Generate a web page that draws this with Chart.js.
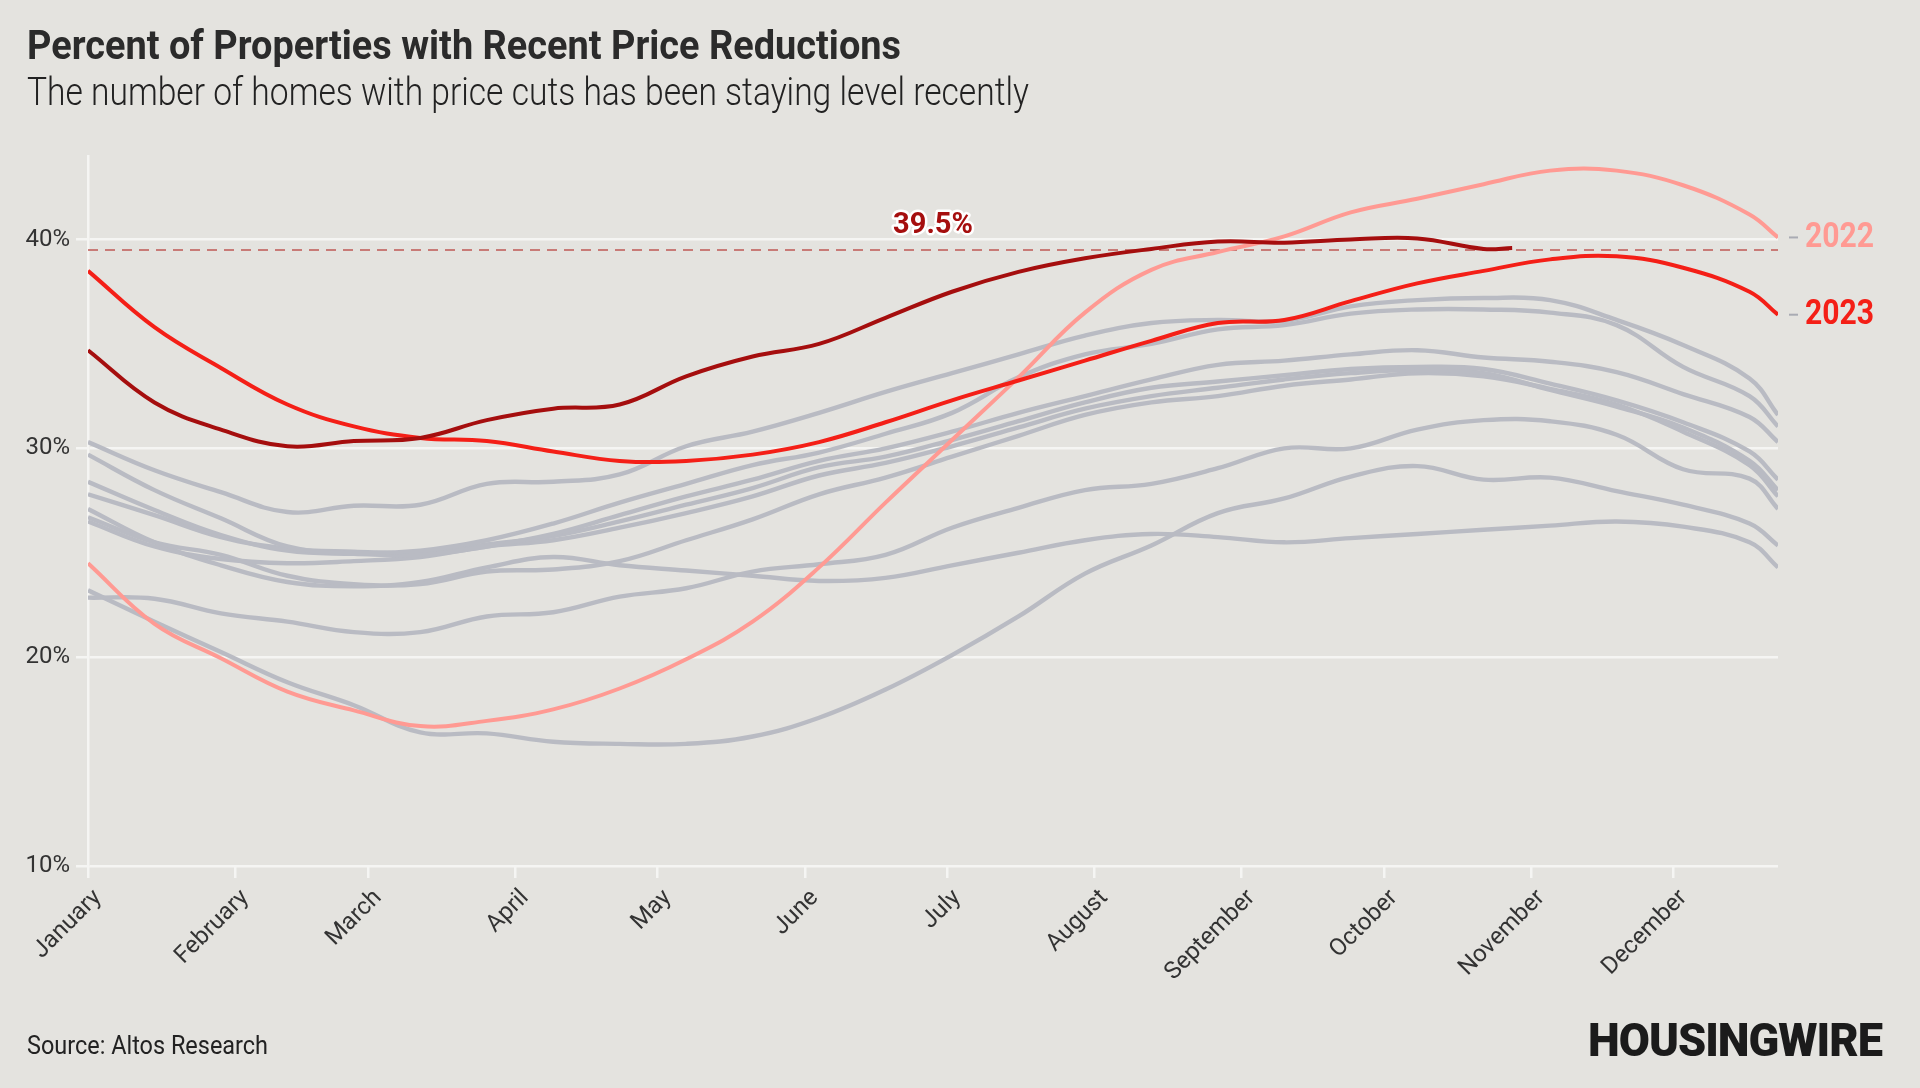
<!DOCTYPE html>
<html>
<head>
<meta charset="utf-8">
<script src="https://cdn.jsdelivr.net/npm/chart.js@4.4.1/dist/chart.umd.min.js"></script>
<style>
  html, body { margin: 0; padding: 0; background: #e4e3df; }
  body { width: 1920px; height: 1088px; position: relative; overflow: hidden; font-family: Roboto, sans-serif; }
  #chart { position: absolute; left: 0; top: 0; }
  .txt { position: absolute; white-space: nowrap; line-height: 1; transform-origin: 0 0; }
  #title { left: 27px; top: 25px; font-size: 41px; font-weight: 700; color: #2b2b2b; }
  #subtitle { left: 27px; top: 73px; font-size: 38px; font-weight: 300; color: #222; }
  #source { left: 27px; top: 1032px; font-size: 26px; font-weight: 400; color: #222; }
  #logo { left: 1588px; top: 1017px; font-size: 46px; font-weight: 900; color: #1b1b1b; letter-spacing: -1px; }
</style>
</head>
<body>
<canvas id="chart" width="1920" height="1088"></canvas>
<div id="title" class="txt" data-w="874">Percent of Properties with Recent Price Reductions</div>
<div id="subtitle" class="txt" data-w="1002">The number of homes with price cuts has been staying level recently</div>
<div id="source" class="txt" data-w="241">Source: Altos Research</div>
<div id="logo" class="txt" data-w="294">HOUSINGWIRE</div>
<script>
// day of year for each sample
const days = [0,14,28,42,56,70,84,98,112,126,140,154,168,182,196,210,224,238,252,266,280,294,308,322,336,350,356];
const days2024 = [0,14,28,42,56,70,84,98,112,126,140,154,168,182,196,210,224,238,252,266,280,294,300];

const monthNames = ["January","February","March","April","May","June","July","August","September","October","November","December"];
const monthStarts = [0,31,59,90,120,151,181,212,243,273,304,334];
const yTicks = [10,20,30,40];

const y2024 = [34.7,32.2,30.9,30.1,30.35,30.5,31.35,31.9,32.1,33.45,34.4,35.0,36.25,37.5,38.45,39.1,39.55,39.9,39.85,40.0,40.05,39.55,39.6];
const y2023 = [38.5,35.8,33.85,32.1,31.05,30.5,30.35,29.85,29.4,29.4,29.7,30.3,31.25,32.3,33.25,34.2,35.15,36.0,36.15,37.05,37.9,38.5,39.05,39.2,38.65,37.5,36.4];
const y2022 = [24.5,21.6,19.95,18.35,17.45,16.7,16.95,17.5,18.5,19.9,21.7,24.3,27.4,30.4,33.4,36.5,38.55,39.4,40.15,41.3,41.95,42.65,43.3,43.3,42.6,41.2,40.1];

// earlier years (grey)
const grayA = [30.3,28.95,27.9,26.95,27.25,27.3,28.3,28.4,28.75,30.1,30.8,31.7,32.7,33.6,34.5,35.4,36.0,36.15,36.1,36.8,37.1,37.2,37.1,36.15,34.95,33.35,31.6];
const grayB = [29.7,28.0,26.65,25.3,25.0,25.1,25.6,26.4,27.4,28.3,29.2,29.8,30.7,31.7,33.4,34.5,35.0,35.7,35.9,36.45,36.65,36.65,36.5,35.9,33.9,32.5,31.05];
const grayC = [28.4,27.05,25.85,25.1,24.95,24.9,25.3,25.9,26.8,27.7,28.5,29.4,30.0,30.8,31.7,32.5,33.3,34.0,34.2,34.5,34.7,34.35,34.15,33.65,32.6,31.5,30.3];
const grayD = [27.8,26.8,25.75,25.2,25.05,25.0,25.4,25.8,26.5,27.3,28.1,29.1,29.6,30.4,31.3,32.2,32.9,33.2,33.5,33.8,33.9,33.8,33.1,32.3,31.25,29.85,28.5];
const grayE = [26.5,25.3,24.7,24.5,24.6,24.8,25.3,25.6,26.2,26.9,27.7,28.7,29.3,30.1,31.0,31.9,32.5,32.9,33.3,33.6,33.75,33.6,32.8,32.0,31.0,29.4,28.0];
const grayF = [26.7,25.5,24.9,23.9,23.5,23.5,24.1,24.2,24.6,25.6,26.6,27.8,28.6,29.6,30.6,31.6,32.2,32.5,33.0,33.3,33.6,33.45,32.85,32.1,30.8,29.2,27.7];
const grayG = [22.85,22.8,22.1,21.7,21.2,21.2,21.95,22.15,22.9,23.3,24.1,24.45,24.9,26.2,27.15,28.0,28.3,29.05,30.0,30.0,30.9,31.35,31.3,30.65,29.0,28.55,27.1];
const grayH = [27.1,25.5,24.4,23.6,23.4,23.6,24.3,24.8,24.4,24.15,23.9,23.65,23.8,24.4,25.0,25.6,25.9,25.75,25.5,25.7,25.9,26.1,26.3,26.5,26.25,25.5,24.3];
const grayI = [23.2,21.7,20.25,18.8,17.7,16.4,16.35,15.95,15.85,15.85,16.2,17.1,18.45,20.1,21.95,24.0,25.35,26.9,27.6,28.65,29.15,28.5,28.6,27.95,27.3,26.4,25.35];
const grays = [grayA, grayB, grayC, grayD, grayE, grayF, grayG, grayH, grayI];

const peakValue = 39.5;
const peakLabelDay = 178;

const pts = (xs, ys) => ys.map((v, i) => ({x: xs[i], y: v}));

const datasets = [
  {label: "2024", data: pts(days2024, y2024), borderColor: "#a50e0e", borderWidth: 4, order: 0},
  {label: "2023", data: pts(days, y2023), borderColor: "#f41f17", borderWidth: 4, order: 1},
  {label: "2022", data: pts(days, y2022), borderColor: "#ff9a93", borderWidth: 4, order: 2},
  {label: "peak", data: [{x: days[0], y: peakValue}, {x: days[days.length - 1], y: peakValue}],
   borderColor: "#bf5a55", borderWidth: 1.5, borderDash: [10, 7], tension: 0, order: 3}
];
grays.forEach((g, i) => {
  datasets.push({label: "g" + i, data: pts(days, g), borderColor: "#b9bbc3", borderWidth: 4.4, order: 5});
});

const endLabels = {
  id: "endLabels",
  afterDatasetsDraw(chart) {
    const {ctx, scales: {x, y}, chartArea} = chart;
    ctx.save();
    // peak annotation
    ctx.font = "bold 29px Roboto";
    ctx.textAlign = "center";
    ctx.textBaseline = "alphabetic";
    ctx.lineJoin = "round";
    ctx.lineWidth = 5;
    ctx.strokeStyle = "#ffffff";
    const px = x.getPixelForValue(peakLabelDay);
    const py = y.getPixelForValue(peakValue) - 17;
    ctx.strokeText(peakValue + "%", px, py);
    ctx.fillStyle = "#a50e0e";
    ctx.fillText(peakValue + "%", px, py);

    // year labels at the end of 2022 and 2023
    [["2022", y2022, "#ff9a93"], ["2023", y2023, "#f41f17"]].forEach(([name, arr, col]) => {
      const ly = y.getPixelForValue(arr[arr.length - 1]);
      ctx.strokeStyle = "#a9abb3";
      ctx.lineWidth = 2;
      ctx.beginPath();
      ctx.moveTo(chartArea.right + 11, ly);
      ctx.lineTo(chartArea.right + 20, ly);
      ctx.stroke();
      ctx.save();
      ctx.translate(chartArea.right + 27, ly + 1);
      ctx.scale(0.86, 1);
      ctx.font = "bold 35px Roboto";
      ctx.textAlign = "left";
      ctx.textBaseline = "middle";
      ctx.fillStyle = col;
      ctx.fillText(name, 0, 0);
      ctx.restore();
    });
    ctx.restore();
  }
};

new Chart(document.getElementById("chart"), {
  type: "line",
  data: {datasets: datasets},
  options: {
    responsive: false,
    devicePixelRatio: 1,
    animation: false,
    layout: {padding: {left: 0, top: 156, right: 142, bottom: 0}},
    elements: {point: {radius: 0}, line: {tension: 0.4}},
    plugins: {legend: {display: false}, tooltip: {enabled: false}},
    scales: {
      x: {
        type: "linear",
        min: 0,
        max: 356,
        afterBuildTicks: (s) => { s.ticks = monthStarts.map(v => ({value: v})); },
        afterFit: (s) => { s.height = 222; },
        ticks: {
          callback: (v) => monthNames[monthStarts.indexOf(v)],
          maxRotation: 45, minRotation: 45,
          labelOffset: 10,
          color: "#333", font: {family: "Roboto", size: 24, weight: "400"},
          padding: 6
        },
        grid: {drawOnChartArea: false, color: "#f5f5f3", lineWidth: 2.5, tickLength: 12},
        border: {display: false}
      },
      y: {
        min: 10,
        max: 44,
        afterBuildTicks: (s) => { s.ticks = yTicks.map(v => ({value: v})); },
        afterFit: (s) => { s.width = 88; },
        ticks: {
          callback: (v) => v + "%",
          color: "#333", font: {family: "Roboto", size: 24, weight: "400"},
          padding: 6
        },
        grid: {color: "#f5f5f3", lineWidth: 2.5, tickLength: 12},
        border: {color: "#f5f5f3", width: 2.5}
      }
    }
  },
  plugins: [endLabels]
});

// squeeze the HTML texts to the condensed widths of the original
document.querySelectorAll(".txt").forEach(el => {
  const w = el.getBoundingClientRect().width;
  el.style.transform = "scaleX(" + (parseFloat(el.dataset.w) / w) + ")";
});
</script>
</body>
</html>
